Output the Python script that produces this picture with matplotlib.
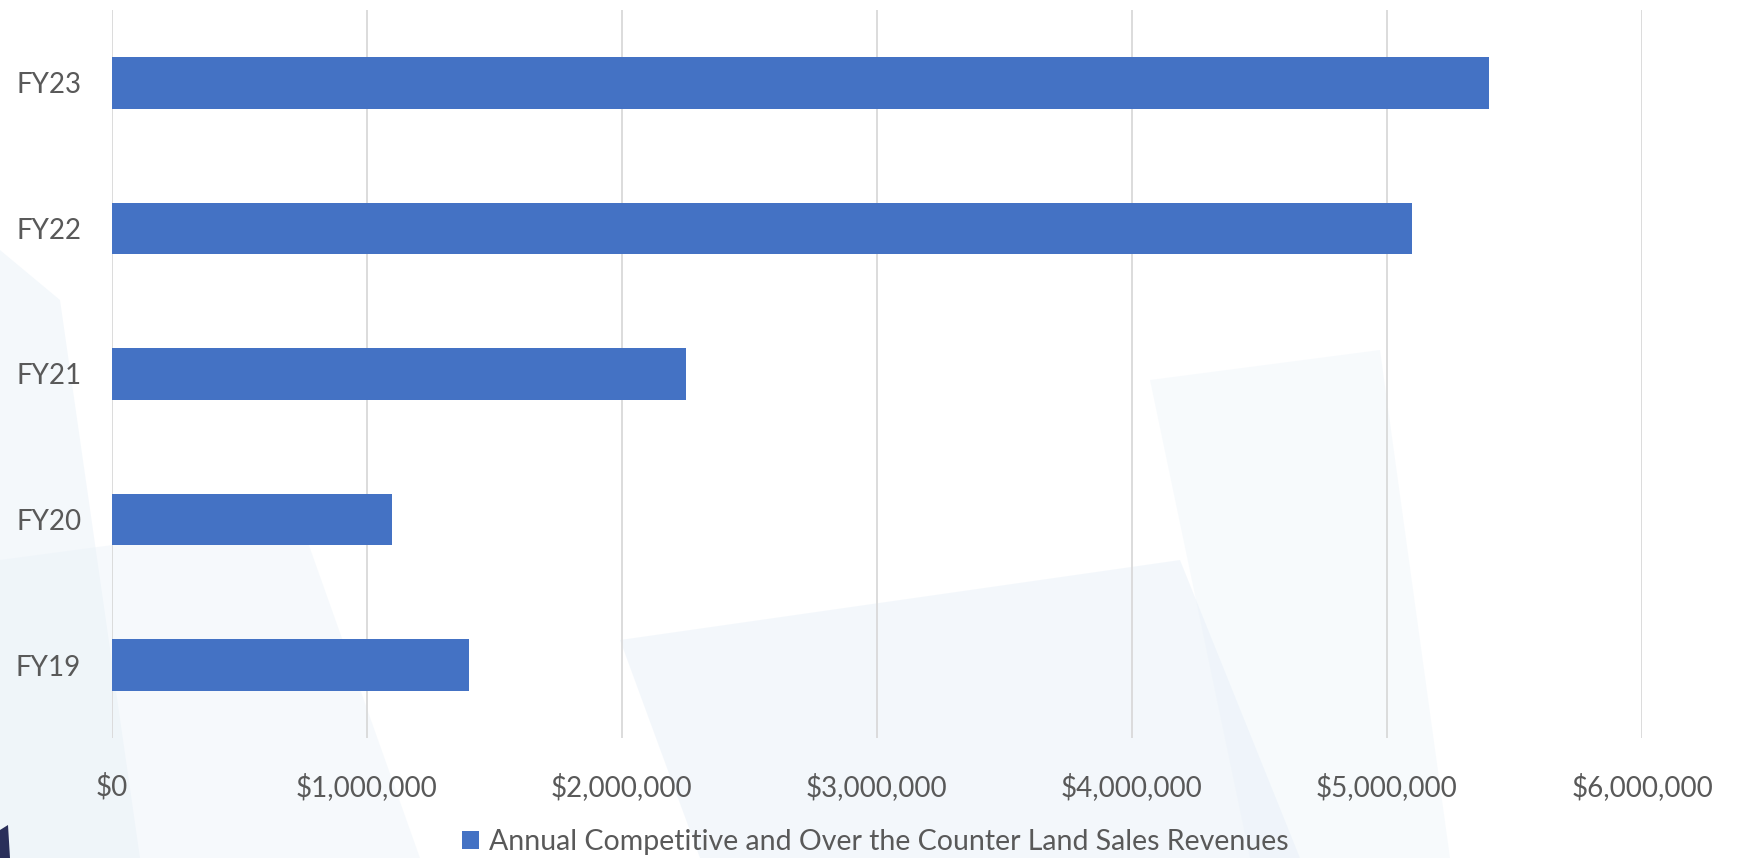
import matplotlib
matplotlib.use("Agg")
import matplotlib.pyplot as plt
from matplotlib.patches import Polygon, Patch
from matplotlib.ticker import FuncFormatter

categories = ["FY19", "FY20", "FY21", "FY22", "FY23"]
revenues = [1400000, 1100000, 2250000, 5100000, 5400000]
xticks = [0, 1000000, 2000000, 3000000, 4000000, 5000000, 6000000]
series_name = "Annual Competitive and Over the Counter Land Sales Revenues"

plt.rcParams["font.family"] = ["Lato", "DejaVu Sans"]
W, H = 1739, 858
fig = plt.figure(figsize=(W / 100, H / 100), dpi=100)
fig.patch.set_facecolor("white")

# background axes for faint light-blue shapes
bg = fig.add_axes([0, 0, 1, 1], zorder=-5)
bg.set_xlim(0, W)
bg.set_ylim(H, 0)
bg.axis("off")

def bpoly(pts, color, alpha):
    bg.add_patch(Polygon(pts, closed=True, facecolor=color, edgecolor="none",
                         alpha=alpha))

bpoly([(0, 250), (60, 300), (140, 858), (0, 858)], "#e4eef7", 0.4)
bpoly([(0, 560), (300, 520), (420, 858), (0, 858)], "#e7f0f8", 0.35)
bpoly([(620, 640), (1180, 560), (1300, 858), (700, 858)], "#e3edf7", 0.4)
bpoly([(1150, 380), (1380, 350), (1450, 858), (1250, 858)], "#e6f0f8", 0.3)
bpoly([(0, 830), (8, 825), (10, 858), (0, 858)], "#2a2f5a", 1.0)

ax = fig.add_axes([111.7 / W, 1 - 738 / H, (1642 - 111.7) / W, (738 - 10) / H],
                  zorder=1)
ax.set_facecolor("none")
y = list(range(len(categories)))
ax.barh(y, revenues, height=0.355, color="#4472C4", zorder=3)
ax.set_ylim(-0.5, len(categories) - 0.5)
ax.set_xlim(xticks[0], xticks[-1])
ax.set_xticks(xticks)
ax.xaxis.set_major_formatter(FuncFormatter(lambda v, p: "${:,.0f}".format(v)))
ax.set_yticks(y)
ax.set_yticklabels(categories)
ax.grid(axis="x", color="#d9d9d9", linewidth=1.3, zorder=1)
ax.grid(axis="y", visible=False)
for s in ax.spines.values():
    s.set_visible(False)
ax.tick_params(axis="both", length=0, labelsize=20, labelcolor="#595959")
ax.tick_params(axis="x", pad=25)
ax.tick_params(axis="y", pad=22)

handle = Patch(facecolor="#4472C4", edgecolor="none")
fig.legend([handle], [series_name], loc="center",
           bbox_to_anchor=(875 / W, 1 - 842 / H), frameon=False,
           fontsize=20.5, labelcolor="#595959", handlelength=0.6,
           handleheight=0.6, handletextpad=0.35, borderpad=0.1)

fig.savefig("out.png", dpi=100, facecolor=fig.get_facecolor())
